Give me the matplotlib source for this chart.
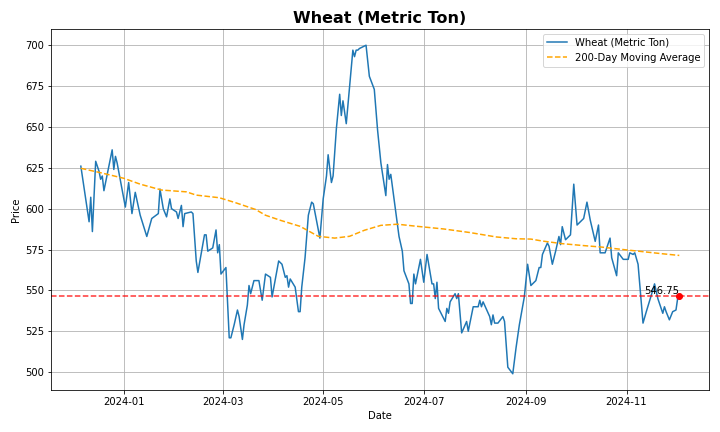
import matplotlib
matplotlib.use("Agg")
import matplotlib.pyplot as plt
import pandas as pd

# daily closing price
price_dates = [
    "2023-12-06", "2023-12-11", "2023-12-12", "2023-12-13", "2023-12-15", "2023-12-17",
    "2023-12-18", "2023-12-19", "2023-12-20", "2023-12-21", "2023-12-25", "2023-12-26",
    "2023-12-27", "2023-12-28", "2024-01-02", "2024-01-04", "2024-01-06", "2024-01-08",
    "2024-01-11", "2024-01-15", "2024-01-18", "2024-01-22", "2024-01-23", "2024-01-25",
    "2024-01-27", "2024-01-29", "2024-01-30", "2024-02-02", "2024-02-03", "2024-02-05",
    "2024-02-06", "2024-02-07", "2024-02-11", "2024-02-12", "2024-02-14", "2024-02-15",
    "2024-02-19", "2024-02-20", "2024-02-21", "2024-02-24", "2024-02-26", "2024-02-27",
    "2024-02-28", "2024-02-29", "2024-03-03", "2024-03-05", "2024-03-06", "2024-03-08",
    "2024-03-10", "2024-03-11", "2024-03-13", "2024-03-14", "2024-03-16", "2024-03-17",
    "2024-03-18", "2024-03-20", "2024-03-23", "2024-03-25", "2024-03-27", "2024-03-30",
    "2024-03-31", "2024-04-02", "2024-04-04", "2024-04-06", "2024-04-08", "2024-04-09",
    "2024-04-10", "2024-04-11", "2024-04-14", "2024-04-16", "2024-04-17", "2024-04-18",
    "2024-04-20", "2024-04-22", "2024-04-24", "2024-04-25", "2024-04-29", "2024-05-01",
    "2024-05-03", "2024-05-04", "2024-05-06", "2024-05-07", "2024-05-09", "2024-05-11",
    "2024-05-12", "2024-05-13", "2024-05-15", "2024-05-19", "2024-05-20", "2024-05-21",
    "2024-05-22", "2024-05-23", "2024-05-27", "2024-05-29", "2024-06-01", "2024-06-03",
    "2024-06-05", "2024-06-08", "2024-06-09", "2024-06-10", "2024-06-11", "2024-06-16",
    "2024-06-18", "2024-06-19", "2024-06-22", "2024-06-23", "2024-06-24", "2024-06-25",
    "2024-06-26", "2024-06-29", "2024-07-01", "2024-07-03", "2024-07-06", "2024-07-07",
    "2024-07-08", "2024-07-09", "2024-07-10", "2024-07-14", "2024-07-15", "2024-07-16",
    "2024-07-17", "2024-07-20", "2024-07-21", "2024-07-22", "2024-07-24", "2024-07-27",
    "2024-07-28", "2024-07-31", "2024-08-03", "2024-08-04", "2024-08-05", "2024-08-06",
    "2024-08-10", "2024-08-11", "2024-08-12", "2024-08-13", "2024-08-15", "2024-08-18",
    "2024-08-19", "2024-08-21", "2024-08-24", "2024-08-26", "2024-08-28", "2024-08-31",
    "2024-09-02", "2024-09-04", "2024-09-07", "2024-09-09", "2024-09-10", "2024-09-11",
    "2024-09-14", "2024-09-15", "2024-09-17", "2024-09-19", "2024-09-21", "2024-09-22",
    "2024-09-23", "2024-09-25", "2024-09-28", "2024-09-30", "2024-10-02", "2024-10-06",
    "2024-10-08", "2024-10-10", "2024-10-13", "2024-10-15", "2024-10-16", "2024-10-19",
    "2024-10-22", "2024-10-23", "2024-10-26", "2024-10-27", "2024-10-30", "2024-11-02",
    "2024-11-03", "2024-11-05", "2024-11-06", "2024-11-08", "2024-11-11", "2024-11-13",
    "2024-11-16", "2024-11-18", "2024-11-20", "2024-11-23", "2024-11-24", "2024-11-25",
    "2024-11-27", "2024-11-29", "2024-12-01", "2024-12-02", "2024-12-03",
]
prices = [
    626, 592, 607, 586, 629, 623,
    618, 620, 611, 616, 636, 624,
    632, 628, 601, 616, 597, 610,
    596, 583, 594, 597, 612, 600,
    595, 606, 600, 598, 594, 602,
    589, 597, 598, 597, 568, 561,
    584, 584, 574, 576, 587, 573,
    578, 560, 564, 521, 521, 529,
    538, 534, 520, 529, 541, 553,
    548, 556, 556, 544, 560, 558,
    546, 557, 568, 566, 558, 559,
    552, 557, 552, 537, 537, 552,
    570, 596, 604, 603, 582, 606,
    620, 633, 616, 620, 649, 670,
    657, 666, 652, 697, 693, 697,
    697, 698, 700, 681, 673, 648,
    628, 608, 627, 618, 621, 583,
    574, 562, 554, 542, 542, 560,
    554, 569, 555, 572, 554, 554,
    545, 555, 539, 531, 539, 536,
    543, 548, 545, 548, 524, 531,
    525, 540, 540, 544, 540, 543,
    534, 529, 535, 530, 530, 534,
    531, 503, 499, 515, 529, 546,
    566, 553, 556, 564, 564, 572,
    579, 577, 566, 574, 583, 578,
    589, 581, 584, 615, 590, 594,
    604, 593, 580, 590, 573, 573,
    582, 570, 559, 573, 569, 569,
    573, 572, 573, 566, 530, 537,
    547, 554, 545, 536, 540, 537,
    532, 537, 538, 545, 546.75,
]

ma_dates = [
    "2023-12-06", "2023-12-18", "2024-01-01", "2024-01-11", "2024-01-24", "2024-02-08",
    "2024-02-14", "2024-02-28", "2024-03-09", "2024-03-21", "2024-03-27", "2024-04-05",
    "2024-04-17", "2024-04-28", "2024-05-08", "2024-05-17", "2024-05-26", "2024-06-05",
    "2024-06-15", "2024-06-27", "2024-07-13", "2024-07-29", "2024-08-14", "2024-08-26",
    "2024-09-04", "2024-09-11", "2024-09-23", "2024-10-05", "2024-10-17", "2024-10-29",
    "2024-11-10", "2024-11-23", "2024-12-03",
]
ma_values = [
    624.7, 622.0, 618.6, 615.0, 611.4, 610.3,
    608.3, 606.7, 603.6, 599.5, 596.0, 592.9,
    589.2, 583.1, 582.0, 583.1, 586.8, 589.8,
    590.5, 589.2, 587.6, 585.4, 582.7, 581.6,
    581.4, 580.2, 578.6, 577.5, 576.5, 575.1,
    573.8, 572.4, 571.4,
]

dates = pd.to_datetime(price_dates)
ma_x = pd.to_datetime(ma_dates)
last_date = dates[-1]
last_price = prices[-1]

plt.figure(figsize=(10, 6), dpi=72)
plt.plot(dates, prices, label="Wheat (Metric Ton)")
plt.plot(ma_x, ma_values, color="orange", linestyle="--", label="200-Day Moving Average")
plt.axhline(last_price, color="red", linestyle="--", alpha=0.8)
plt.scatter([last_date], [last_price], color="red", zorder=3)
plt.text(last_date, last_price, f"{last_price:.2f}", ha="right", va="bottom")
plt.title("Wheat (Metric Ton)", fontsize=16, fontweight="bold")
plt.xlabel("Date")
plt.ylabel("Price")
plt.legend(loc="upper right")
plt.grid(True)
plt.tight_layout()
plt.savefig("out.png")
